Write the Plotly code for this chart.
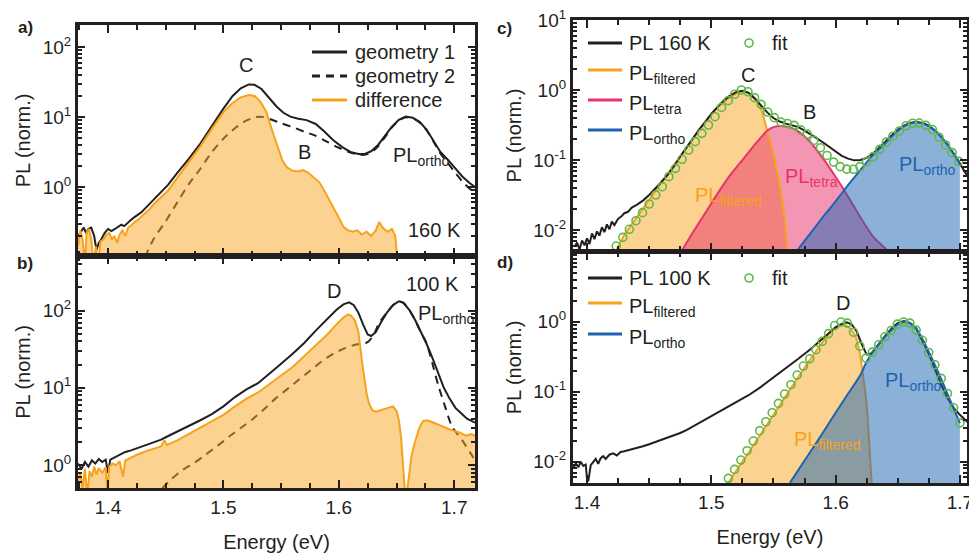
import numpy as np
import plotly.graph_objects as go

# ============ DATA (energy in eV; PL values stored as log10 of normalized PL) ============
# ---- a) 160 K, two geometries and their difference ----
a_geo1_E = [1.3740, 1.3770, 1.3790, 1.3810, 1.3830, 1.3855, 1.3880, 1.3900, 1.3920, 1.3945, 1.3970,
            1.4000, 1.4030, 1.4060, 1.4090, 1.4115, 1.4140, 1.4170, 1.4200, 1.4230, 1.4260, 1.4290,
            1.4320, 1.4350, 1.4400, 1.4460, 1.4520, 1.4600, 1.4700, 1.4800, 1.4900, 1.5000, 1.5080,
            1.5150, 1.5220, 1.5270, 1.5330, 1.5400, 1.5460, 1.5520, 1.5580, 1.5650, 1.5720, 1.5800,
            1.5870, 1.5950, 1.6030, 1.6100, 1.6170, 1.6220, 1.6280, 1.6340, 1.6400, 1.6460, 1.6520,
            1.6580, 1.6640, 1.6700, 1.6760, 1.6820, 1.6880, 1.6950, 1.7010, 1.7070, 1.7130, 1.7180]
a_geo1_log = [-0.70, -0.62, -0.58, -0.66, -0.60, -0.58, -0.70, -0.90, -0.80, -0.74, -0.66,
              -0.60, -0.63, -0.60, -0.57, -0.54, -0.56, -0.51, -0.47, -0.43, -0.40, -0.36,
              -0.31, -0.26, -0.17, -0.08, 0.03, 0.20, 0.40, 0.62, 0.87, 1.12, 1.30,
              1.41, 1.465, 1.46, 1.40, 1.27, 1.15, 1.06, 1.005, 0.975, 0.955, 0.90,
              0.80, 0.67, 0.57, 0.50, 0.47, 0.47, 0.51, 0.60, 0.73, 0.86, 0.96,
              1.005, 0.99, 0.93, 0.82, 0.66, 0.50, 0.38, 0.27, 0.15, 0.06, 0.00]

a_geo2_E = [1.4320, 1.4400, 1.4500, 1.4600, 1.4700, 1.4800, 1.4900, 1.5000, 1.5100, 1.5200, 1.5280,
            1.5340, 1.5420, 1.5500, 1.5600, 1.5700, 1.5800, 1.5900, 1.6000, 1.6100, 1.6200, 1.6280,
            1.6340, 1.6400, 1.6460, 1.6520, 1.6580, 1.6640, 1.6700, 1.6760, 1.6820, 1.6880, 1.6950,
            1.7010, 1.7070, 1.7130, 1.7180]
a_geo2_log = [-1.00, -0.73, -0.49, -0.22, 0.04, 0.26, 0.50, 0.69, 0.84, 0.95, 1.00,
              1.00, 0.96, 0.91, 0.855, 0.79, 0.73, 0.645, 0.56, 0.49, 0.455, 0.49,
              0.58, 0.71, 0.85, 0.95, 0.995, 0.98, 0.92, 0.81, 0.65, 0.48, 0.33,
              0.20, 0.08, -0.02, -0.08]

a_diff_E = [1.3740, 1.3760, 1.3780, 1.3800, 1.3815, 1.3835, 1.3855, 1.3875, 1.3895, 1.3915, 1.3935,
            1.3960, 1.3985, 1.4010, 1.4035, 1.4055, 1.4080, 1.4100, 1.4125, 1.4150, 1.4175, 1.4200,
            1.4230, 1.4260, 1.4290, 1.4320, 1.4360, 1.4400, 1.4460, 1.4520, 1.4600, 1.4700, 1.4800,
            1.4900, 1.5000, 1.5080, 1.5150, 1.5220, 1.5270, 1.5320, 1.5370, 1.5420, 1.5470, 1.5510,
            1.5550, 1.5600, 1.5650, 1.5690, 1.5730, 1.5780, 1.5830, 1.5880, 1.5920, 1.5960, 1.6000,
            1.6040, 1.6080, 1.6120, 1.6160, 1.6200, 1.6240, 1.6280, 1.6320, 1.6350, 1.6380, 1.6420,
            1.6460, 1.6490, 1.6510]
a_diff_log = [-0.85, -0.62, -0.75, -1.10, -0.65, -0.60, -0.75, -1.10, -0.85, -1.10, -0.78,
              -0.75, -0.68, -0.66, -0.75, -0.70, -0.80, -0.68, -0.62, -0.70, -0.58, -0.55,
              -0.50, -0.47, -0.42, -0.38, -0.32, -0.24, -0.15, -0.05, 0.13, 0.35, 0.58,
              0.83, 1.07, 1.20, 1.28, 1.315, 1.30, 1.22, 1.08, 0.82, 0.56, 0.38,
              0.28, 0.23, 0.22, 0.24, 0.21, 0.14, 0.07, -0.07, -0.19, -0.30, -0.44,
              -0.57, -0.62, -0.64, -0.62, -0.68, -0.64, -0.70, -0.62, -0.50, -0.58, -0.64,
              -0.60, -0.70, -1.10]

# ---- b) 100 K ----
b_geo1_E = [1.3740, 1.3770, 1.3800, 1.3830, 1.3860, 1.3890, 1.3920, 1.3950, 1.3980, 1.4000, 1.4020,
            1.4060, 1.4100, 1.4150, 1.4200, 1.4260, 1.4330, 1.4400, 1.4460, 1.4500, 1.4600, 1.4700,
            1.4800, 1.4900, 1.5000, 1.5100, 1.5200, 1.5300, 1.5400, 1.5500, 1.5600, 1.5700, 1.5800,
            1.5900, 1.5980, 1.6040, 1.6090, 1.6130, 1.6170, 1.6210, 1.6250, 1.6280, 1.6320, 1.6370,
            1.6420, 1.6470, 1.6520, 1.6560, 1.6610, 1.6660, 1.6710, 1.6760, 1.6810, 1.6860, 1.6910,
            1.6960, 1.7010, 1.7060, 1.7110, 1.7180]
b_geo1_log = [0.02, -0.05, 0.04, -0.02, 0.06, 0.02, 0.08, 0.04, 0.07, -0.10, 0.07,
              0.10, 0.14, 0.17, 0.19, 0.22, 0.26, 0.29, 0.33, 0.36, 0.43, 0.50,
              0.58, 0.66, 0.76, 0.88, 0.98, 1.06, 1.18, 1.31, 1.44, 1.58, 1.74,
              1.89, 2.01, 2.08, 2.105, 2.07, 1.97, 1.82, 1.69, 1.67, 1.72, 1.86,
              1.98, 2.07, 2.12, 2.10, 2.01, 1.88, 1.73, 1.57, 1.39, 1.19, 1.00,
              0.86, 0.74, 0.67, 0.60, 0.55]

b_geo2_E = [1.4470, 1.4550, 1.4650, 1.4750, 1.4850, 1.4950, 1.5050, 1.5150, 1.5250, 1.5350, 1.5450,
            1.5550, 1.5650, 1.5750, 1.5850, 1.5950, 1.6050, 1.6150, 1.6250, 1.6300, 1.6350, 1.6420,
            1.6470, 1.6520, 1.6560, 1.6610, 1.6660, 1.6710, 1.6760, 1.6810, 1.6860, 1.6920, 1.6980,
            1.7070, 1.7160, 1.7180]
b_geo2_log = [-0.30, -0.18, -0.06, 0.03, 0.14, 0.25, 0.37, 0.48, 0.59, 0.72, 0.86,
              0.98, 1.10, 1.22, 1.34, 1.44, 1.51, 1.56, 1.59, 1.68, 1.84, 1.98,
              2.07, 2.12, 2.10, 2.01, 1.88, 1.72, 1.58, 1.32, 1.04, 0.76, 0.50,
              0.32, 0.11, 0.07]

b_diff_E = [1.3740, 1.3760, 1.3780, 1.3800, 1.3820, 1.3840, 1.3860, 1.3880, 1.3900, 1.3920, 1.3950,
            1.3980, 1.3995, 1.4010, 1.4040, 1.4070, 1.4100, 1.4130, 1.4150, 1.4200, 1.4260, 1.4330,
            1.4400, 1.4460, 1.4490, 1.4510, 1.4600, 1.4700, 1.4800, 1.4900, 1.5000, 1.5100, 1.5200,
            1.5300, 1.5400, 1.5500, 1.5600, 1.5700, 1.5800, 1.5900, 1.5980, 1.6040, 1.6080, 1.6110,
            1.6140, 1.6170, 1.6200, 1.6220, 1.6240, 1.6260, 1.6290, 1.6320, 1.6360, 1.6400, 1.6440,
            1.6470, 1.6500, 1.6520, 1.6540, 1.6560, 1.6575, 1.6590, 1.6610, 1.6630, 1.6650, 1.6670,
            1.6700, 1.6730, 1.6760, 1.6800, 1.6850, 1.6900, 1.6950, 1.7000, 1.7050, 1.7100, 1.7150,
            1.7180]
b_diff_log = [-0.20, -0.10, -0.30, -0.05, -0.40, -0.08, -0.15, -0.02, -0.12, -0.04, -0.10,
              -0.03, -0.40, -0.02, 0.02, 0.00, 0.05, -0.15, 0.06, 0.10, 0.14, 0.18,
              0.21, 0.24, 0.32, 0.26, 0.32, 0.40, 0.48, 0.56, 0.65, 0.76, 0.86,
              0.94, 1.05, 1.16, 1.27, 1.41, 1.55, 1.69, 1.82, 1.91, 1.95, 1.93,
              1.87, 1.72, 1.35, 1.10, 0.93, 0.80, 0.71, 0.69, 0.71, 0.73, 0.75,
              0.76, 0.70, 0.58, 0.35, 0.00, -0.40, -0.35, -0.10, 0.12, 0.25, 0.36,
              0.49, 0.57, 0.58, 0.56, 0.53, 0.49, 0.46, 0.44, 0.42, 0.38, 0.40,
              0.38]

# ---- c) 160 K decomposition ----
c_pl_E = [1.3900, 1.3920, 1.3940, 1.3960, 1.3980, 1.4000, 1.4020, 1.4040, 1.4060, 1.4080, 1.4100,
          1.4120, 1.4140, 1.4160, 1.4180, 1.4200, 1.4220, 1.4250, 1.4280, 1.4300, 1.4330, 1.4360,
          1.4400, 1.4450, 1.4500, 1.4550, 1.4600, 1.4650, 1.4700, 1.4750, 1.4800, 1.4850, 1.4900,
          1.4950, 1.5000, 1.5050, 1.5100, 1.5150, 1.5200, 1.5250, 1.5300, 1.5350, 1.5400, 1.5450,
          1.5500, 1.5550, 1.5600, 1.5650, 1.5700, 1.5750, 1.5800, 1.5850, 1.5900, 1.5950, 1.6000,
          1.6050, 1.6100, 1.6150, 1.6200, 1.6250, 1.6300, 1.6350, 1.6400, 1.6450, 1.6500, 1.6550,
          1.6600, 1.6650, 1.6700, 1.6750, 1.6800, 1.6850, 1.6900, 1.6950, 1.7000, 1.7065]
c_pl_log = [-2.24, -2.18, -2.28, -2.15, -2.22, -2.12, -2.20, -2.05, -2.13, -2.02, -2.08,
            -1.96, -2.03, -1.92, -1.99, -1.88, -1.93, -1.84, -1.80, -1.76, -1.74, -1.68,
            -1.64, -1.58, -1.50, -1.41, -1.31, -1.21, -1.09, -0.95, -0.82, -0.69, -0.57,
            -0.46, -0.34, -0.24, -0.15, -0.08, -0.03, -0.01, -0.04, -0.12, -0.22, -0.32,
            -0.40, -0.45, -0.48, -0.50, -0.53, -0.58, -0.63, -0.69, -0.75, -0.81, -0.88,
            -0.94, -0.98, -1.005, -1.00, -0.97, -0.91, -0.83, -0.74, -0.65, -0.57, -0.51,
            -0.47, -0.455, -0.47, -0.51, -0.58, -0.67, -0.78, -0.91, -1.05, -1.24]

c_filt_E = [1.4233, 1.4300, 1.4400, 1.4500, 1.4600, 1.4700, 1.4800, 1.4900, 1.5000, 1.5100, 1.5200,
            1.5250, 1.5300, 1.5350, 1.5400, 1.5450, 1.5500, 1.5530, 1.5560, 1.5590, 1.5610]
c_filt_log = [-2.30, -2.07, -1.82, -1.57, -1.32, -1.07, -0.83, -0.58, -0.35, -0.17, -0.05,
              -0.02, -0.04, -0.12, -0.27, -0.58, -0.92, -1.18, -1.45, -1.85, -2.30]

c_tetra_E = [1.4762, 1.4850, 1.4950, 1.5050, 1.5150, 1.5250, 1.5350, 1.5450, 1.5500, 1.5550, 1.5600,
             1.5650, 1.5700, 1.5800, 1.5900, 1.6000, 1.6100, 1.6200, 1.6300, 1.6424]
c_tetra_log = [-2.30, -2.04, -1.76, -1.48, -1.22, -1.00, -0.78, -0.58, -0.53, -0.515, -0.52,
               -0.545, -0.59, -0.75, -0.98, -1.24, -1.52, -1.82, -2.09, -2.30]

c_ortho_E = [1.5687, 1.5800, 1.5900, 1.6000, 1.6100, 1.6200, 1.6300, 1.6400, 1.6450, 1.6500, 1.6550,
             1.6600, 1.6650, 1.6700, 1.6750, 1.6800, 1.6850, 1.6900, 1.6950, 1.7000]
c_ortho_log = [-2.30, -2.04, -1.81, -1.59, -1.36, -1.14, -0.93, -0.76, -0.67, -0.585, -0.52,
               -0.48, -0.465, -0.48, -0.52, -0.58, -0.67, -0.78, -0.905, -1.04]

c_fit_E = [1.4235, 1.4288, 1.4341, 1.4394, 1.4447, 1.4500, 1.4553, 1.4606, 1.4659, 1.4712, 1.4765,
           1.4818, 1.4871, 1.4924, 1.4977, 1.5030, 1.5083, 1.5136, 1.5189, 1.5242, 1.5295, 1.5348,
           1.5401, 1.5454, 1.5507, 1.5560, 1.5613, 1.5666, 1.5719, 1.5772, 1.5825, 1.5878, 1.5931,
           1.5984, 1.6037, 1.6090, 1.6143, 1.6196, 1.6249, 1.6302, 1.6355, 1.6408, 1.6461, 1.6514,
           1.6567, 1.6620, 1.6673, 1.6726, 1.6779, 1.6832, 1.6885, 1.6938, 1.6991]
c_fit_log = [-2.229, -2.105, -1.990, -1.867, -1.752, -1.629, -1.500, -1.381, -1.238, -1.119, -0.990,
             -0.857, -0.738, -0.619, -0.500, -0.381, -0.248, -0.152, -0.060, 0.000, -0.025, -0.110,
             -0.205, -0.315, -0.395, -0.458, -0.478, -0.505, -0.570, -0.630, -0.720, -0.825, -0.935,
             -1.030, -1.095, -1.130, -1.133, -1.095, -1.024, -0.952, -0.848, -0.745, -0.660, -0.585,
             -0.510, -0.475, -0.472, -0.505, -0.565, -0.675, -0.785, -0.895, -1.020]

# ---- d) 100 K decomposition ----
d_pl_E = [1.3890, 1.3910, 1.3930, 1.3950, 1.3970, 1.3990, 1.4000, 1.4010, 1.4030, 1.4050, 1.4070,
          1.4090, 1.4110, 1.4130, 1.4150, 1.4180, 1.4210, 1.4240, 1.4270, 1.4300, 1.4350, 1.4400,
          1.4450, 1.4500, 1.4550, 1.4600, 1.4650, 1.4700, 1.4750, 1.4800, 1.4850, 1.4900, 1.4950,
          1.5000, 1.5100, 1.5200, 1.5300, 1.5400, 1.5500, 1.5600, 1.5700, 1.5800, 1.5900, 1.5950,
          1.6000, 1.6050, 1.6090, 1.6130, 1.6170, 1.6210, 1.6250, 1.6290, 1.6340, 1.6400, 1.6460,
          1.6500, 1.6550, 1.6600, 1.6650, 1.6700, 1.6750, 1.6800, 1.6850, 1.6900, 1.6950, 1.7000,
          1.7070]
d_pl_log = [-2.10, -2.02, -2.08, -2.00, -2.06, -2.04, -2.25, -2.28, -2.05, -2.00, -1.96,
            -2.03, -1.95, -1.92, -1.96, -1.90, -1.88, -1.91, -1.86, -1.85, -1.83, -1.81,
            -1.78, -1.75, -1.72, -1.69, -1.66, -1.62, -1.59, -1.55, -1.50, -1.46, -1.41,
            -1.36, -1.26, -1.16, -1.05, -0.93, -0.80, -0.67, -0.53, -0.39, -0.24, -0.16,
            -0.08, -0.03, -0.01, -0.04, -0.14, -0.32, -0.47, -0.45, -0.33, -0.20, -0.08,
            -0.02, 0.01, -0.02, -0.10, -0.27, -0.46, -0.68, -0.90, -1.09, -1.23, -1.33,
            -1.45]

d_filt_E = [1.5137, 1.5200, 1.5300, 1.5400, 1.5500, 1.5600, 1.5700, 1.5750, 1.5800, 1.5850, 1.5900,
            1.5950, 1.6000, 1.6050, 1.6090, 1.6130, 1.6160, 1.6190, 1.6220, 1.6240, 1.6255, 1.6268,
            1.6290]
d_filt_log = [-2.30, -2.13, -1.87, -1.60, -1.33, -1.06, -0.79, -0.66, -0.53, -0.40, -0.28,
              -0.17, -0.08, -0.045, -0.06, -0.12, -0.21, -0.40, -0.76, -1.02, -1.30, -1.65,
              -2.30]

d_ortho_E = [1.5633, 1.5700, 1.5800, 1.5900, 1.6000, 1.6100, 1.6200, 1.6250, 1.6300, 1.6350, 1.6400,
             1.6450, 1.6500, 1.6550, 1.6600, 1.6650, 1.6700, 1.6750, 1.6800, 1.6850, 1.6900, 1.6950,
             1.7000]
d_ortho_log = [-2.30, -2.12, -1.85, -1.58, -1.30, -1.03, -0.76, -0.57, -0.43, -0.32, -0.21,
               -0.12, -0.04, -0.005, -0.02, -0.10, -0.25, -0.43, -0.62, -0.82, -1.03, -1.24,
               -1.45]

d_fit_E = [1.5137, 1.5187, 1.5238, 1.5288, 1.5338, 1.5389, 1.5439, 1.5490, 1.5540, 1.5590, 1.5641,
           1.5691, 1.5741, 1.5792, 1.5842, 1.5893, 1.5943, 1.5993, 1.6044, 1.6094, 1.6144, 1.6195,
           1.6245, 1.6296, 1.6346, 1.6396, 1.6447, 1.6497, 1.6547, 1.6598, 1.6648, 1.6699, 1.6749,
           1.6799, 1.6850, 1.6900, 1.6950, 1.7001]
d_fit_log = [-2.238, -2.110, -1.976, -1.843, -1.705, -1.557, -1.429, -1.300, -1.167, -1.033, -0.900,
             -0.762, -0.633, -0.530, -0.400, -0.280, -0.170, -0.055, -0.005, -0.020, -0.150, -0.350,
             -0.520, -0.435, -0.330, -0.215, -0.125, -0.035, -0.005, -0.020, -0.120, -0.265, -0.440,
             -0.615, -0.810, -1.025, -1.230, -1.445]

# ---- axis ticks ----
x_tick_vals = [1.4, 1.5, 1.6, 1.7]
y_tick_vals = [0.01, 0.1, 1, 10, 100]
y_tick_text = ["10<sup>-2</sup>", "10<sup>-1</sup>", "10<sup>0</sup>", "10<sup>1</sup>", "10<sup>2</sup>"]
y_minor_vals = [m * 10.0 ** p for p in range(-3, 3) for m in range(2, 10)]


def lin(logvals):
    return 10 ** np.asarray(logvals, dtype=float)


# ============ STYLE ============
INK = "#231f20"
ORANGE = "#f7a21b"
ORANGE_FILL = "rgba(249,166,35,0.5)"
PINK = "#e8336b"
PINK_FILL = "rgba(232,45,105,0.5)"
BLUE = "#1f63b0"
BLUE_FILL = "rgba(25,100,180,0.5)"
GREEN = "#5fb848"
FONT = "Arial, 'Liberation Sans', Helvetica, sans-serif"

fig = go.Figure()


def line(x, y, xa, ya, color=INK, dash="solid", width=2, shape="linear", fill=None, fillcolor=None):
    fig.add_trace(go.Scatter(
        x=x, y=lin(y), mode="lines", xaxis=xa, yaxis=ya, showlegend=False,
        line=dict(color=color, width=width, dash=dash, shape=shape, smoothing=0.6),
        fill=fill, fillcolor=fillcolor, hoverinfo="skip"))


def fillonly(x, y, xa, ya, fillcolor):
    fig.add_trace(go.Scatter(
        x=x, y=lin(y), mode="lines", xaxis=xa, yaxis=ya, showlegend=False,
        line=dict(width=0, color="rgba(0,0,0,0)", shape="spline", smoothing=0.6),
        fill="tozeroy", fillcolor=fillcolor, hoverinfo="skip"))


def circles(x, y, xa, ya):
    fig.add_trace(go.Scatter(
        x=x, y=lin(y), mode="markers", xaxis=xa, yaxis=ya, showlegend=False,
        marker=dict(symbol="circle-open", size=8, color=GREEN, line=dict(width=1.6, color=GREEN)),
        hoverinfo="skip"))


# panel a
line(a_geo1_E, a_geo1_log, "x", "y")
line(a_geo2_E, a_geo2_log, "x", "y", dash="8px,6px", shape="spline")
line(a_diff_E, a_diff_log, "x", "y", color=ORANGE, fill="tozeroy", fillcolor=ORANGE_FILL)
# panel b
line(b_geo1_E, b_geo1_log, "x2", "y2")
line(b_geo2_E, b_geo2_log, "x2", "y2", dash="8px,6px", shape="spline")
line(b_diff_E, b_diff_log, "x2", "y2", color=ORANGE, fill="tozeroy", fillcolor=ORANGE_FILL)
# panel c
fillonly(c_filt_E, c_filt_log, "x3", "y3", ORANGE_FILL)
fillonly(c_tetra_E, c_tetra_log, "x3", "y3", PINK_FILL)
line(c_filt_E, c_filt_log, "x3", "y3", color=ORANGE, shape="spline")
line(c_tetra_E, c_tetra_log, "x3", "y3", color=PINK, shape="spline")
line(c_pl_E, c_pl_log, "x3", "y3")
fillonly(c_ortho_E, c_ortho_log, "x3", "y3", BLUE_FILL)
line(c_ortho_E, c_ortho_log, "x3", "y3", color=BLUE, shape="spline")
circles(c_fit_E, c_fit_log, "x3", "y3")
# panel d
fillonly(d_filt_E, d_filt_log, "x4", "y4", ORANGE_FILL)
line(d_filt_E, d_filt_log, "x4", "y4", color=ORANGE, shape="spline")
line(d_pl_E, d_pl_log, "x4", "y4")
fillonly(d_ortho_E, d_ortho_log, "x4", "y4", BLUE_FILL)
line(d_ortho_E, d_ortho_log, "x4", "y4", color=BLUE, shape="spline")
circles(d_fit_E, d_fit_log, "x4", "y4")


def xstyle(domain, anchor, rng, labels, title=None, standoff=20):
    d = dict(domain=domain, anchor=anchor, range=rng, automargin=False, showline=True, linewidth=3,
             linecolor=INK, mirror="allticks", ticks="inside", ticklen=8, tickwidth=2.2, tickcolor=INK,
             tickmode="array", tickvals=x_tick_vals, showticklabels=labels, ticklabeloverflow="allow",
             tickfont=dict(size=19, color=INK, family=FONT),
             minor=dict(tickmode="linear", tick0=1.4, dtick=0.025, ticks="inside", ticklen=5,
                        tickwidth=2.2, tickcolor=INK, showgrid=False),
             showgrid=False, zeroline=False)
    if title:
        d["title"] = dict(text=title, font=dict(size=20, color=INK, family=FONT), standoff=standoff)
    return d


def ystyle(domain, anchor, rng):
    return dict(domain=domain, anchor=anchor, type="log", range=rng, automargin=False, showline=True,
                linewidth=3, linecolor=INK, mirror="allticks", ticks="inside", ticklen=7, tickwidth=2.2,
                tickcolor=INK, tickmode="array", tickvals=y_tick_vals, ticktext=y_tick_text,
                tickfont=dict(size=19, color=INK, family=FONT),
                minor=dict(tickmode="array", tickvals=y_minor_vals, ticks="inside", ticklen=4,
                           tickwidth=1.6, tickcolor=INK, showgrid=False),
                title=dict(text="PL (norm.)", font=dict(size=20, color=INK, family=FONT), standoff=7),
                showgrid=False, zeroline=False)


XL = [0.0805, 0.4902]
XR = [0.5913, 0.9979]
fig.update_layout(
    template="none",
    width=969, height=553, margin=dict(l=0, r=0, t=0, b=0, autoexpand=False),
    paper_bgcolor="white", plot_bgcolor="white",
    font=dict(family=FONT, color=INK, size=20),
    xaxis=xstyle(XL, "y", [1.374, 1.718], False),
    yaxis=ystyle([0.5371, 0.9548], "x", [-0.986, 2.314]),
    xaxis2=xstyle(XL, "y2", [1.374, 1.718], True, "Energy (eV)", standoff=21),
    yaxis2=ystyle([0.1175, 0.5371], "x2", [-0.297, 2.706]),
    xaxis3=xstyle(XR, "y3", [1.3887, 1.7057], False),
    yaxis3=ystyle([0.5461, 0.9638], "x3", [-2.30, 1.0]),
    xaxis4=xstyle(XR, "y4", [1.3887, 1.7057], True, "Energy (eV)", standoff=19),
    yaxis4=ystyle([0.1266, 0.5443], "x4", [-2.304, 0.996]),
)

ann = []


def txt(text, x, y, xref, yref, color=INK, size=20, xanchor="center", yanchor="middle", yshift=0, bold=False):
    ann.append(dict(text=("<b>%s</b>" % text) if bold else text, x=x, y=y, xref=xref, yref=yref,
                    showarrow=False, xanchor=xanchor, yanchor=yanchor, yshift=yshift,
                    font=dict(size=size, color=color, family=FONT)))


# panel letters
for lab, px, py in [("a)", 25, 27), ("b)", 25, 263), ("c)", 505, 28), ("d)", 505, 262)]:
    txt(lab, px / 969, 1 - py / 553, "paper", "paper", size=17, bold=True)

# panel labels (data coordinates; y given as log10 on log axes)
txt("C", 1.520, 1.743, "x", "y")
txt("B", 1.570, 0.50, "x", "y")
txt("PL<sub>ortho</sub>", 1.6455, 0.486, "x", "y", xanchor="left", yshift=-4)
txt("160 K", 1.6826, -0.614, "x", "y")
txt("D", 1.5962, 2.258, "x2", "y2")
txt("100 K", 1.681, 2.345, "x2", "y2")
txt("PL<sub>ortho</sub>", 1.6668, 2.0, "x2", "y2", xanchor="left", yshift=-4)
txt("C", 1.5298, 0.214, "x3", "y3")
txt("B", 1.5794, -0.31, "x3", "y3")
txt("PL<sub>filtered</sub>", 1.4855, -1.47, "x3", "y3", color=ORANGE, xanchor="left", yshift=-4)
txt("PL<sub>tetra</sub>", 1.5579, -1.19, "x3", "y3", color=PINK, xanchor="left", yshift=-4)
txt("PL<sub>ortho</sub>", 1.6491, -1.024, "x3", "y3", color=BLUE, xanchor="left", yshift=-4)
txt("D", 1.6062, 0.263, "x4", "y4")
txt("PL<sub>ortho</sub>", 1.6384, -0.795, "x4", "y4", color=BLUE, xanchor="left", yshift=-4)
txt("PL<sub>filtered</sub>", 1.5647, -1.643, "x4", "y4", color=ORANGE, xanchor="left", yshift=-4)

# hand-drawn legends (paper coordinates)
shapes = []


def leg_line(x0px, x1px, ypx, color, dash="solid"):
    shapes.append(dict(type="line", xref="paper", yref="paper", x0=x0px / 969, x1=x1px / 969,
                       y0=1 - ypx / 553, y1=1 - ypx / 553, line=dict(color=color, width=3, dash=dash)))


def leg_circle(xpx, ypx):
    shapes.append(dict(type="circle", xref="paper", yref="paper", xsizemode="pixel", ysizemode="pixel",
                       xanchor=xpx / 969, yanchor=1 - ypx / 553, x0=-4, x1=4, y0=-4, y1=4,
                       line=dict(color=GREEN, width=1.6)))


def leg_text(text, xpx, ypx, sub=False):
    txt(text, xpx / 969, 1 - ypx / 553, "paper", "paper", xanchor="left", yshift=-4 if sub else 0)


# legend a
leg_line(312, 347, 52, INK); leg_text("geometry 1", 353, 52)
leg_line(312, 347, 76, INK, dash="8px,6px"); leg_text("geometry 2", 353, 76)
leg_line(312, 347, 100, ORANGE); leg_text("difference", 353, 100)
# legend c
leg_line(588, 622, 43, INK); leg_text("PL 160 K", 627, 43)
leg_line(588, 622, 70, ORANGE); leg_text("PL<sub>filtered</sub>", 627, 70, True)
leg_line(588, 622, 100, PINK); leg_text("PL<sub>tetra</sub>", 627, 100, True)
leg_line(588, 622, 130, BLUE); leg_text("PL<sub>ortho</sub>", 627, 130, True)
leg_circle(749, 43); leg_text("fit", 770, 43)
# legend d
leg_line(588, 622, 278, INK); leg_text("PL 100 K", 627, 278)
leg_line(588, 622, 303, ORANGE); leg_text("PL<sub>filtered</sub>", 627, 303, True)
leg_line(588, 622, 334, BLUE); leg_text("PL<sub>ortho</sub>", 627, 334, True)
leg_circle(749, 278); leg_text("fit", 770, 278)

fig.update_layout(annotations=ann, shapes=shapes)
# remove the browser's default page margin so the 969x553 figure fills the window exactly
fig.write_html("out.html", config={"displayModeBar": False},
               post_script="document.body.style.margin='0';document.body.style.overflow='hidden';")
